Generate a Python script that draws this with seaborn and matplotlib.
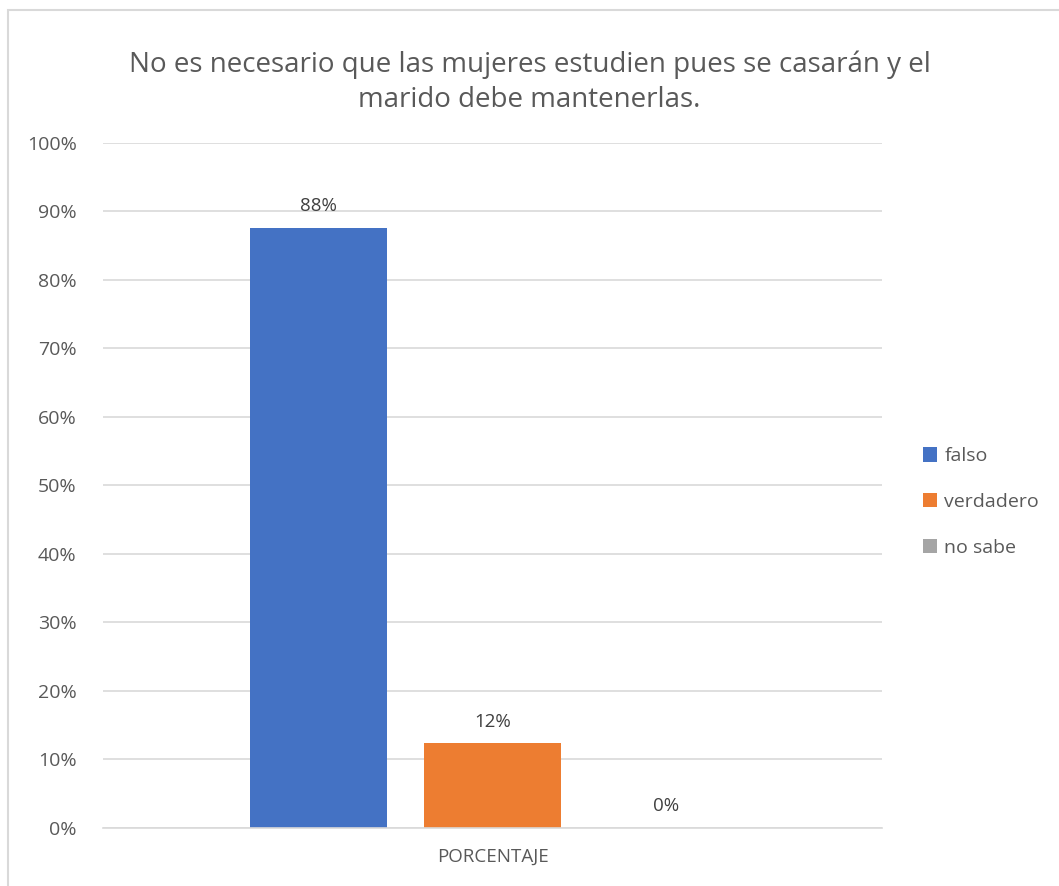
import matplotlib
matplotlib.use('Agg')
import matplotlib.pyplot as plt
import pandas as pd
import seaborn as sns
from matplotlib.patches import Rectangle
from matplotlib.ticker import PercentFormatter

categoria = ['PORCENTAJE']
series = ['falso', 'verdadero', 'no sabe']
valores = [0.876, 0.124, 0.0]
etiquetas = ['88%', '12%', '0%']
colores = ['#4472C4', '#ED7D31', '#A5A5A5']
titulo = 'No es necesario que las mujeres estudien pues se casarán y el\nmarido debe mantenerlas.'

df = pd.DataFrame({'cat': categoria * len(series), 'serie': series, 'valor': valores})

sns.set_theme(style='white')
plt.rcParams['font.family'] = ['Open Sans', 'DejaVu Sans']
gris = '#595959'

fig = plt.figure(figsize=(10.59, 8.86), dpi=100)
ax = fig.add_axes([0.0973, 0.0655, 0.7356, 0.7731])

sns.barplot(data=df, x='cat', y='valor', hue='serie', hue_order=series,
            palette=colores, saturation=1, width=0.67, gap=0.21,
            linewidth=0, ax=ax, legend=True)

for cont, lab in zip(ax.containers, etiquetas):
    ax.bar_label(cont, labels=[lab], padding=9, fontsize=13.5, color='#404040')

ax.set_ylim(0, 1)
ax.set_xlim(-0.5, 0.5)
ax.set_yticks([i / 10 for i in range(11)])
ax.yaxis.set_major_formatter(PercentFormatter(1.0, decimals=0))
ax.grid(axis='y', color='#d9d9d9', linewidth=1.2)
ax.set_axisbelow(True)
for s in ['top', 'right', 'left']:
    ax.spines[s].set_visible(False)
ax.spines['bottom'].set_color('#d9d9d9')
ax.spines['bottom'].set_linewidth(1.2)
ax.tick_params(axis='y', length=0, labelsize=14, labelcolor=gris, pad=19)
ax.tick_params(axis='x', length=0, labelsize=13.5, labelcolor=gris, pad=14)
ax.set_xlabel('')
ax.set_ylabel('')

fig.text(0.5, 0.907, titulo, ha='center', va='center', fontsize=20,
         color=gris, linespacing=1.35)

leg = ax.legend(loc='center left', bbox_to_anchor=(1.03, 0.476), frameon=False,
                fontsize=14, labelcolor=gris, handlelength=0.75, handleheight=0.75,
                handletextpad=0.35, labelspacing=1.42)

fig.patches.append(Rectangle((0.0075, -0.01), 1.1, 0.999, transform=fig.transFigure,
                             fill=False, edgecolor='#d9d9d9', linewidth=1.5))

fig.savefig('out.png', dpi=100)
